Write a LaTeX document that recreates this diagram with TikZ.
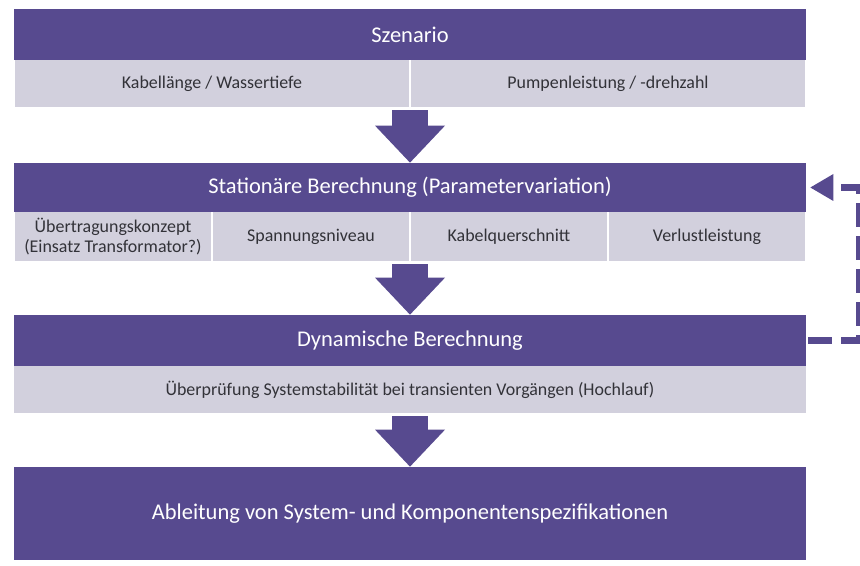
\documentclass[tikz,border=0pt]{standalone}
\usepackage{fontspec}
\setmainfont{Carlito}
\usetikzlibrary{arrows.meta}
\definecolor{lila}{RGB}{87,74,143}
\definecolor{hellgrau}{RGB}{210,208,221}
\definecolor{schrift}{RGB}{50,50,56}

\begin{document}
\begin{tikzpicture} [kopf/.style={fill=lila, text=white, minimum width=15.84cm, inner sep=0pt, font=\fontsize{12.8}{15}\selectfont},
        zelle/.style={fill=hellgrau, text=schrift, inner sep=0pt, align=center, font=\fontsize{10.2}{11.2}\selectfont},
        blockpfeil/.style={lila, line width=0.72cm, shorten <=0.06cm, -{Triangle[length=0.74cm, width=1.4cm, line width=0pt]}},
        rueckpfeil/.style={lila, line width=0.14cm, dash pattern=on 0.48cm off 0.18cm, shorten <=0.04cm, shorten >=0.08cm, -{Triangle[length=0.46cm, width=0.54cm, line width=0pt]}}]
            \useasboundingbox (0,0) rectangle (17.2,-11.32);

            \node[kopf, minimum height=1.02cm] (szenario)   at (8.2, -0.69)   {Szenario};
            \node[zelle, minimum width=7.88cm, minimum height=0.94cm] (laenge) at (4.24, -1.67) {Kabellänge / Wassertiefe};
            \node[zelle, minimum width=7.88cm, minimum height=0.94cm] (pumpe)  at (12.16, -1.67) {Pumpenleistung / -drehzahl};

            \node[kopf, minimum height=0.98cm] (stationaer) at (8.2, -3.75)   {Stationäre Berechnung (Parametervariation)};
            \node[zelle, minimum width=3.92cm, minimum height=0.98cm] (konzept)     at (2.26, -4.73)  {Übertragungskonzept\\(Einsatz Transformator?)};
            \node[zelle, minimum width=3.92cm, minimum height=0.98cm] (spannung)    at (6.22, -4.73)  {Spannungsniveau};
            \node[zelle, minimum width=3.92cm, minimum height=0.98cm] (querschnitt) at (10.18, -4.73) {Kabelquerschnitt};
            \node[zelle, minimum width=3.92cm, minimum height=0.98cm] (verlust)     at (14.14, -4.73) {Verlustleistung};

            \node[kopf, minimum height=1.02cm] (dynamisch)  at (8.2, -6.81)   {Dynamische Berechnung};
            \node[zelle, minimum width=15.84cm, minimum height=0.94cm] (pruefung) at (8.2, -7.79) {Überprüfung Systemstabilität bei transienten Vorgängen (Hochlauf)};

            \node[kopf, minimum height=1.86cm] (ableitung)  at (8.2, -10.27)  {Ableitung von System- und Komponentenspezifikationen};

            \draw[blockpfeil] (szenario.center |- laenge.south) -- (stationaer.north);
            \draw[blockpfeil] (stationaer.center |- spannung.south) -- (dynamisch.north);
            \draw[blockpfeil] (pruefung.south) -- (ableitung.north);

            \draw[rueckpfeil] (dynamisch.east) -- ++(1.06,0) |- (stationaer.east);
        \end{tikzpicture}
\end{document}
